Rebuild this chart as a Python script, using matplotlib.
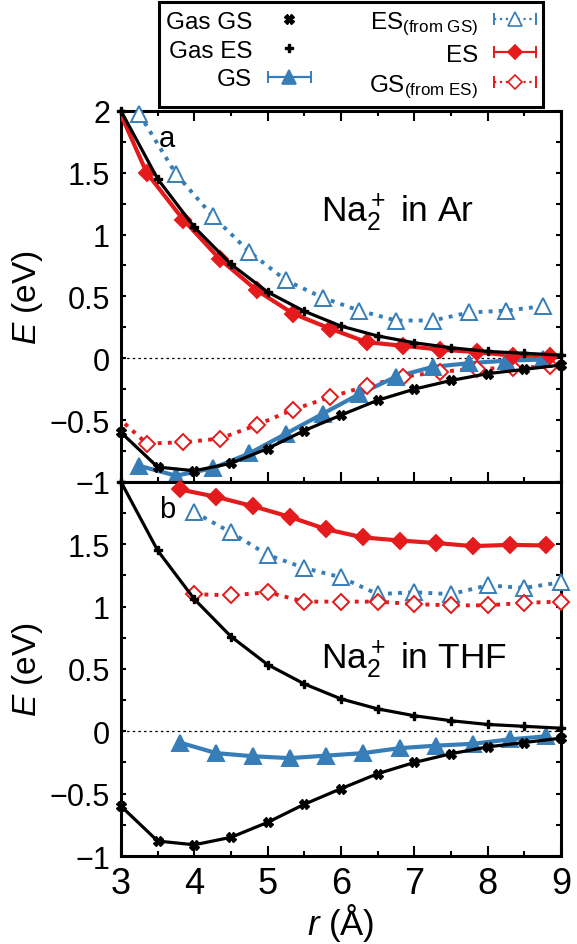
import matplotlib
matplotlib.use('Agg')
import numpy as np
import matplotlib.pyplot as plt
from matplotlib.lines import Line2D
from matplotlib.legend_handler import HandlerLine2D
from matplotlib.ticker import MultipleLocator, FuncFormatter

plt.rcParams['font.family'] = 'Liberation Sans'
plt.rcParams['mathtext.fontset'] = 'custom'
plt.rcParams['mathtext.rm'] = 'Liberation Sans'
plt.rcParams['mathtext.it'] = 'Liberation Sans:italic'
plt.rcParams['mathtext.bf'] = 'Liberation Sans:bold'

RED = '#e41a1c'
BLUE = '#377eb8'

# gas-phase curves (same in both panels)
r_gas = [3.0, 3.5, 4.0, 4.5, 5.0, 5.5, 6.0, 6.5, 7.0, 7.5, 8.0, 8.5, 9.0]
gas_gs = [-0.60, -0.88, -0.91, -0.85, -0.73, -0.585, -0.46, -0.34, -0.25, -0.18, -0.125, -0.09, -0.055]
gas_es = [2.0, 1.45, 1.06, 0.76, 0.535, 0.38, 0.26, 0.18, 0.125, 0.085, 0.055, 0.04, 0.025]

# Na2+ in Ar
r_ar_gs = [3.25, 3.75, 4.25, 4.75, 5.25, 5.75, 6.25, 6.75, 7.25, 7.75, 8.25, 8.75]
ar_gs = [-0.87, -0.95, -0.89, -0.77, -0.61, -0.45, -0.29, -0.15, -0.07, -0.04, -0.02, -0.01]
ar_es_from_gs = [1.975, 1.49, 1.15, 0.86, 0.63, 0.49, 0.385, 0.305, 0.305, 0.37, 0.385, 0.42]
r_ar_es = [2.85, 3.35, 3.85, 4.35, 4.85, 5.35, 5.85, 6.35, 6.85, 7.35, 7.85, 8.35, 8.85]
ar_es = [2.17, 1.50, 1.12, 0.80, 0.55, 0.36, 0.24, 0.13, 0.10, 0.07, 0.05, 0.02, 0.02]
ar_gs_from_es = [-0.42, -0.69, -0.68, -0.65, -0.54, -0.415, -0.315, -0.225, -0.15, -0.11, -0.085, -0.08, -0.065]

# Na2+ in THF
r_thf = [3.8, 4.3, 4.8, 5.3, 5.8, 6.3, 6.8, 7.3, 7.8, 8.3, 8.8]
thf_es = [1.94, 1.88, 1.805, 1.72, 1.62, 1.555, 1.53, 1.51, 1.485, 1.495, 1.49]
thf_gs = [-0.09, -0.175, -0.20, -0.215, -0.195, -0.175, -0.135, -0.115, -0.10, -0.065, -0.04]
r_thf_x = [4.0, 4.5, 5.0, 5.5, 6.0, 6.5, 7.0, 7.5, 8.0, 8.5, 9.0]
thf_es_from_gs = [1.757, 1.595, 1.415, 1.31, 1.235, 1.10, 1.115, 1.10, 1.17, 1.15, 1.195]
thf_gs_from_es = [1.10, 1.09, 1.115, 1.04, 1.04, 1.04, 1.02, 1.01, 1.01, 1.03, 1.04]

DOT = (0, (1.0, 1.6))

fig = plt.figure(figsize=(5.77, 9.45), dpi=100)
ax1 = fig.add_axes([0.2097, 0.489, 0.7624, 0.3926])
ax2 = fig.add_axes([0.2097, 0.0931, 0.7624, 0.3959])


def fmt(v, pos):
    if abs(v) < 1e-9:
        return '0'
    return ('%g' % v).replace('-', '\u2212')


def fmt_bottom(v, pos):
    if v > 1.9:
        return ''
    return fmt(v, pos)


def setup(ax, top_ticks):
    ax.set_xlim(3, 9)
    ax.set_ylim(-1, 2)
    ax.xaxis.set_major_locator(MultipleLocator(1))
    ax.xaxis.set_minor_locator(MultipleLocator(0.5))
    ax.yaxis.set_major_locator(MultipleLocator(0.5))
    ax.yaxis.set_minor_locator(MultipleLocator(0.25))
    ax.tick_params(which='both', direction='in', width=1.5, top=top_ticks, right=True)
    ax.tick_params(axis='x', which='major', length=7, labelsize=26, pad=7)
    ax.tick_params(axis='x', which='minor', length=3.5)
    ax.tick_params(axis='y', which='both', length=3.5, labelsize=22, pad=8)
    for s in ax.spines.values():
        s.set_linewidth(2.2)
    ax.axhline(0, color='k', lw=0.9, ls=(0, (2, 2.5)), zorder=1)
    ax.set_ylabel(r'$E$ (eV)', fontsize=24)
    ax.yaxis.set_label_coords(-0.173, 0.5)


def series(ax, r, e, color, ls, marker, filled, ms, lw):
    r = np.asarray(r)
    e = np.asarray(e)
    ax.plot(r, e, color=color, ls=ls, lw=lw, zorder=3)
    keep = (r >= 3) & (r <= 9)
    ax.plot(r[keep], e[keep], ls='none', marker=marker, ms=ms, color=color,
            mfc=color if filled else 'white', mew=1.4, clip_on=False, zorder=4)


def gas(ax):
    ax.plot(r_gas, gas_gs, color='k', lw=2.3, marker='X', ms=7, clip_on=False, zorder=5)
    ax.plot(r_gas, gas_es, color='k', lw=2.3, marker='P', ms=5.5, clip_on=False, zorder=5)


setup(ax1, True)
setup(ax2, False)
ax1.yaxis.set_major_formatter(FuncFormatter(fmt))
ax2.yaxis.set_major_formatter(FuncFormatter(fmt_bottom))
ax1.tick_params(labelbottom=False)

# panel a: argon
series(ax1, r_ar_gs, ar_es_from_gs, BLUE, DOT, '^', False, 12, 2.8)
series(ax1, r_ar_es, ar_gs_from_es, RED, DOT, 'D', False, 8, 2.8)
gas(ax1)
series(ax1, r_ar_gs, ar_gs, BLUE, '-', '^', True, 11, 3)
series(ax1, r_ar_es, ar_es, RED, '-', 'D', True, 8, 3)
ax1.text(0.104, 0.926, 'a', transform=ax1.transAxes, fontsize=21, ha='center', va='center')
ax1.text(0.455, 0.7035, r'Na$_2^+$ in Ar', transform=ax1.transAxes, fontsize=25.5,
         ha='left', va='baseline')

# panel b: THF
gas(ax2)
series(ax2, r_thf_x, thf_es_from_gs, BLUE, DOT, '^', False, 12, 2.8)
series(ax2, r_thf_x, thf_gs_from_es, RED, DOT, 'D', False, 8, 2.8)
series(ax2, r_thf, thf_gs, BLUE, '-', '^', True, 11, 3)
series(ax2, r_thf, thf_es, RED, '-', 'D', True, 8, 3)
ax2.text(0.104, 0.928, 'b', transform=ax2.transAxes, fontsize=21, ha='center', va='center')
ax2.text(0.455, 0.505, r'Na$_2^+$ in THF', transform=ax2.transAxes, fontsize=25.5,
         ha='left', va='baseline')
ax2.set_xlabel(r'$r$ (Å)', fontsize=25, labelpad=0)

# legend: errorbar-style handles with caps at both ends
handler_map = {}


def entry(color, ls, marker, filled, ms):
    caps = Line2D([], [], color=color, ls=ls, lw=1.6, marker='|', ms=9, mew=1.4)
    mk = Line2D([], [], ls='none', marker=marker, color=color,
                mfc=color if filled else 'white', ms=ms, mew=1.2)
    handler_map[caps] = HandlerLine2D(numpoints=2, marker_pad=0)
    return (caps, mk)


h_gas_gs = Line2D([], [], ls='none', marker='X', ms=7, color='k')
h_gas_es = Line2D([], [], ls='none', marker='P', ms=6, color='k')
handles = [h_gas_gs, h_gas_es, entry(BLUE, '-', '^', True, 10),
           entry(BLUE, ':', '^', False, 10), entry(RED, '-', 'D', True, 7),
           entry(RED, ':', 'D', False, 7)]
labels = ['Gas GS', 'Gas ES', 'GS', r'ES$_{\mathregular{(from\ GS)}}$', 'ES',
          r'GS$_{\mathregular{(from\ ES)}}$']
leg = fig.legend(handles, labels, ncol=2, markerfirst=False, handler_map=handler_map,
                 loc='upper center', bbox_to_anchor=(351 / 577, 1 - 3 / 945),
                 fontsize=17.5, frameon=True, fancybox=False, framealpha=1,
                 edgecolor='k', handlelength=1.75, handletextpad=0.65,
                 columnspacing=2.4, labelspacing=0.28, borderpad=0.3,
                 borderaxespad=0)
leg.get_frame().set_linewidth(2.2)

fig.savefig('out.png', dpi=100)
